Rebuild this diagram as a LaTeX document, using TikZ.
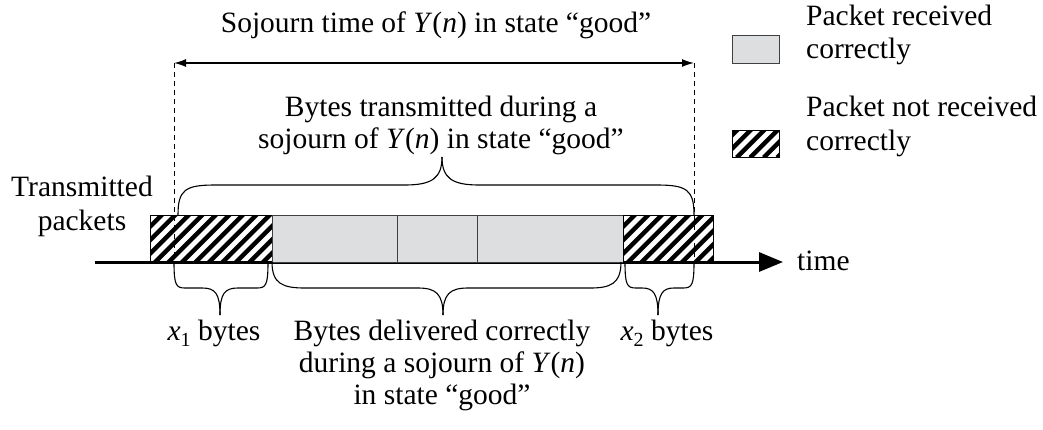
\documentclass[tikz,border=0pt]{standalone}
\usepackage{fontspec}
\setmainfont{Liberation Serif}
\usetikzlibrary{arrows.meta}
\definecolor{pktgray}{HTML}{DDDEE0}
\newcommand\Yn{\textit{Y}(\textit{n})}
\newcommand\sub[1]{\raisebox{-6pt}{\fontsize{20}{20}\selectfont #1}}
\begin{document}
\begin{tikzpicture}[x=1pt,y=-1pt,
  font=\fontsize{29.5}{35}\selectfont,
  lbl/.style={inner sep=0pt, anchor=base},
  lblw/.style={inner sep=0pt, anchor=base west},
  okpkt/.style={fill=pktgray, draw=black!75, line width=0.9pt, inner sep=0pt, anchor=north west},
  badpkt/.style={draw=black, line width=1.2pt, inner sep=0pt, anchor=north west,
    path picture={
      \foreach \k in {0,...,20}
        \draw[line width=4.5pt]
          ([xshift=\k*13.5pt-50pt]path picture bounding box.south west) -- ++(80pt,80pt);}},
  brc/.style={line width=1.1pt},
  guide/.style={dash pattern=on 5pt off 4pt, line width=0.9pt},
  axis/.style={line width=3pt, -{Triangle[length=24pt,width=19pt]}},
  span/.style={line width=1.4pt, {Latex[length=12pt,width=8pt]}-{Latex[length=12pt,width=8pt]}}]
\useasboundingbox (0,0) rectangle (1043,429);

% legend
\node[okpkt, minimum width=47pt, minimum height=28pt] (legok) at (732,35) {};
\node[badpkt, minimum width=47pt, minimum height=27pt] (legbad) at (732,130) {};
\node[lblw] (legok1) at (806,25) {Packet received};
\node[lblw] (legok2) at (806,58) {correctly};
\node[lblw] (legbad1) at (806,116) {Packet not received};
\node[lblw] (legbad2) at (806,150) {correctly};

% time axis
\coordinate (axstart) at (95,262);
\coordinate (axend) at (783,262);
\draw[axis] (axstart) -- (axend);
\node[lblw] (time) at (797,270) {time};

% transmitted packets
\node[badpkt, minimum width=122pt, minimum height=47pt] (p1) at (150,215) {};
\node[okpkt, minimum width=125pt, minimum height=47pt] (p2) at (272,215) {};
\node[okpkt, minimum width=80pt, minimum height=47pt] (p3) at (397,215) {};
\node[okpkt, minimum width=146pt, minimum height=47pt] (p4) at (477,215) {};
\node[badpkt, minimum width=90pt, minimum height=47pt] (p5) at (623,215) {};
\node[lbl] (tx1) at (82,196) {Transmitted};
\node[lbl] (tx2) at (82,230) {packets};

% sojourn interval
\coordinate (sL) at (174,63);
\coordinate (sR) at (694,63);
\coordinate (sLb) at (174,262);
\coordinate (sRb) at (694,262);
\draw[guide] (sL) -- (sLb);
\draw[guide] (sR) -- (sRb);
\draw[span] (sL) -- (sR);
\node[lbl] (title) at (436,32) {Sojourn time of \Yn\ in state “good”};

% brace over the transmitted bytes
\draw[brc] (178,215) .. controls (178,190) and (185,185) .. (215,185) -- (405,185)
  .. controls (432,185) and (442,178) .. (442,157);
\draw[brc] (694,215) .. controls (694,190) and (687,185) .. (657,185) -- (479,185)
  .. controls (452,185) and (442,178) .. (442,157);
\node[lbl] (tb1) at (441,116) {Bytes transmitted during a};
\node[lbl] (tb2) at (441,148) {sojourn of \Yn\ in state “good”};

% braces under the axis
\draw[brc] (174,262) .. controls (174,285) and (176,288) .. (185,288) -- (202,288)
  .. controls (215,288) and (220,293) .. (220,315);
\draw[brc] (268,262) .. controls (268,285) and (266,288) .. (257,288) -- (238,288)
  .. controls (225,288) and (220,293) .. (220,315);
\draw[brc] (272,262) .. controls (272,284) and (283,288) .. (305,288) -- (418,288)
  .. controls (436,288) and (443,294) .. (443,315);
\draw[brc] (621,262) .. controls (621,284) and (610,288) .. (590,288) -- (468,288)
  .. controls (450,288) and (443,294) .. (443,315);
\draw[brc] (625,262) .. controls (625,285) and (627,288) .. (636,288) -- (642,288)
  .. controls (653,288) and (658,293) .. (658,315);
\draw[brc] (694,262) .. controls (694,285) and (692,288) .. (683,288) -- (674,288)
  .. controls (663,288) and (658,293) .. (658,315);

\node[lbl] (x1) at (214,340) {\textit{x}\sub{1} bytes};
\node[lbl] (bd1) at (442,340) {Bytes delivered correctly};
\node[lbl] (bd2) at (442,372) {during a sojourn of \Yn};
\node[lbl] (bd3) at (442,404) {in state “good”};
\node[lbl] (x2) at (667,340) {\textit{x}\sub{2} bytes};
\end{tikzpicture}
\end{document}
